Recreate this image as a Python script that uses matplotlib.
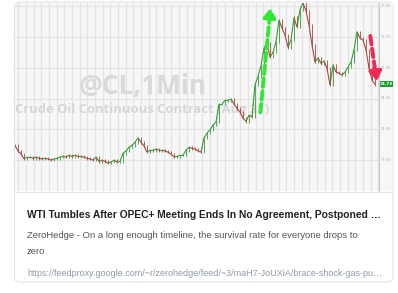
import matplotlib
matplotlib.use("Agg")
import matplotlib.pyplot as plt
import numpy as np
from matplotlib.collections import LineCollection
from matplotlib.patches import FancyBboxPatch

# ---- data (close prices, roughly 2-minute steps) ----
closes = [73.74, 73.65, 73.60, 73.52, 73.55, 73.55, 73.53, 73.55, 73.53, 73.52,
          73.53, 73.52, 73.50, 73.52, 73.53, 73.55, 73.56, 73.55, 73.58, 73.56,
          73.58, 73.56, 73.56, 73.55, 73.53, 73.52, 73.50, 73.55, 73.48, 73.50,
          73.48, 73.45, 73.47, 73.50, 73.47, 73.48, 73.61, 73.65, 73.71, 73.74,
          73.79, 73.86, 73.79, 73.73, 73.63, 73.66, 73.66, 73.68, 73.66, 73.66,
          73.65, 73.63, 73.60, 73.55, 73.56, 73.58, 73.58, 73.66, 73.71, 73.69,
          73.68, 73.65, 73.63, 73.86, 73.94, 73.99, 74.07, 74.12, 74.41, 74.41,
          74.47, 74.47, 74.49, 74.41, 74.34, 74.28, 74.18, 74.13, 74.23, 74.20,
          74.72, 74.86, 75.03, 75.32, 75.40, 75.17, 75.25, 75.42, 75.77, 75.64,
          75.53, 75.33, 75.45, 75.81, 75.66, 75.94, 76.05, 75.92, 75.69, 75.37,
          75.09, 75.16, 75.07, 75.11, 74.99, 74.72, 75.04, 74.93, 74.91, 74.88,
          74.93, 75.01, 75.09, 75.29, 75.58, 75.48, 75.45, 75.29, 74.99, 74.80,
          74.73]
price_ticks = [76.00, 75.50, 75.00, 74.50, 74.00, 73.50]
last_label = "74.73"
title = "WTI Tumbles After OPEC+ Meeting Ends In No Agreement, Postponed \u2026"
subtitle1 = "ZeroHedge - On a long enough timeline, the survival rate for everyone drops to"
subtitle2 = "zero"
url = "https://feedproxy.google.com/~r/zerohedge/feed/~3/maH7-JoUXiA/brace-shock-gas-pu\u2026"
wm1 = "@CL,1Min"
wm2 = "Crude Oil Continuous Contract (Aug 21)"

W, H = 398, 293
fig = plt.figure(figsize=(W / 100, H / 100), dpi=100)
fig.patch.set_facecolor("white")

def fx(px):
    return px / W

def fy(py):
    return 1 - py / H

# card
card = FancyBboxPatch((fx(14.5), fy(282)), fx(393) - fx(14.5), fy(2) - fy(282),
                      boxstyle="round,pad=0,rounding_size=0.015",
                      transform=fig.transFigure, facecolor="white",
                      edgecolor="#e2e4e6", linewidth=0.8, zorder=-3)
fig.patches.append(card)

bg = plt.Rectangle((fx(15), fy(191)), fx(393) - fx(15), fy(2.5) - fy(191),
                   transform=fig.transFigure, facecolor="#f7f7f7",
                   edgecolor="none", zorder=-2)
fig.patches.append(bg)

ax = fig.add_axes([fx(15), fy(191), fx(379.3) - fx(15), fy(2.5) - fy(191)])
ax.set_zorder(1)
ax.set_facecolor("#f7f7f7")
n = len(closes)
xs = np.arange(n)
ax.set_xlim(-0.0, (379.3 - 15) / 3)
ax.set_ylim(73.0, 76.0 + 3.5 / 61.6)

# grid
for gx in np.arange((18.3 - 15) / 3, (379 - 15) / 3, 7.66 / 3):
    ax.axvline(gx, color="#e3e3e3", lw=0.9, zorder=1)
for p in price_ticks:
    ax.axhline(p, color="#e3e3e3", lw=0.9, zorder=1)

for s in ["top", "left", "bottom"]:
    ax.spines[s].set_visible(False)
ax.spines["right"].set_color("#c8c8c8")
ax.spines["right"].set_linewidth(0.8)
ax.set_xticks([])
ax.set_yticks([])

# watermark
ax.text(0.35, 0.555, wm1, transform=ax.transAxes, ha="center", va="center",
        fontsize=19, fontweight="bold", color="#d9d9d9",
        family="Open Sans", zorder=2)
ax.text(0.0, 0.43, wm2, transform=ax.transAxes, ha="left", va="center",
        fontsize=9.4, fontweight="bold", color="#d6d6d6",
        family="Open Sans", zorder=2)

# price line coloured by direction (candle-like)
up_c, dn_c = "#3a9a3a", "#a8483e"
pts = np.column_stack([xs, closes])
segs = np.stack([pts[:-1], pts[1:]], axis=1)
cols = [up_c if closes[i + 1] >= closes[i] else dn_c for i in range(n - 1)]
lc = LineCollection(segs, colors=cols, linewidths=0.8, zorder=3)
ax.add_collection(lc)
opens = [closes[0]] + closes[:-1]
wick = 0.02
for i in range(n):
    c = up_c if closes[i] >= opens[i] else dn_c
    lo, hi = min(opens[i], closes[i]), max(opens[i], closes[i])
    ax.vlines(i, lo - wick, hi + wick, color=c, lw=0.6, zorder=3)

# arrows
ax.annotate("", xy=(85.3, 76.02), xytext=(81.7, 74.23),
            arrowprops=dict(arrowstyle="-|>,head_length=0.55,head_width=0.35",
                            color="#33e633", lw=2.8, linestyle=(0, (2.2, 1.1))),
            zorder=4)
ax.annotate("", xy=(120.7, 74.73), xytext=(118.3, 75.56),
            arrowprops=dict(arrowstyle="-|>,head_length=0.55,head_width=0.35",
                            color="#ee2a55", lw=2.8, linestyle=(0, (2.2, 1.1))),
            zorder=4)

# right price labels
for p in price_ticks:
    fig.text(fx(381), fy(6 + (76.0 - p) * 61.6), f"{p:.2f}", fontsize=2.6,
             color="#b0b0b0", va="center", ha="left", zorder=5)
yl = 6 + (76.0 - closes[-1]) * 61.6
fig.patches.append(plt.Rectangle((fx(379.5), fy(yl + 3.2)), fx(13.5), fy(0) - fy(6.4),
                                 transform=fig.transFigure, facecolor="#1c9e2a",
                                 edgecolor="none", zorder=5))
fig.text(fx(386.2), fy(yl), last_label, fontsize=3.0, color="white",
         ha="center", va="center", fontweight="bold", zorder=6)

fig.lines.append(plt.Line2D([fx(14.5), fx(393)], [fy(191.5), fy(191.5)],
                            transform=fig.transFigure, color="#e6e6e6", lw=0.8,
                            zorder=5))

# card text
fig.text(fx(27), fy(217.5), title, fontsize=7.35, fontweight="bold",
         color="#222222", family="Liberation Sans", va="baseline")
fig.text(fx(27), fy(237.5), subtitle1, fontsize=6.83, color="#555555",
         family="Liberation Sans", va="baseline")
fig.text(fx(27), fy(253.5), subtitle2, fontsize=6.83, color="#555555",
         family="Liberation Sans", va="baseline")
fig.text(fx(27), fy(276), url, fontsize=6.45, color="#8e9aa6",
         family="Liberation Sans", va="baseline")

fig.savefig("out.png", dpi=100)
